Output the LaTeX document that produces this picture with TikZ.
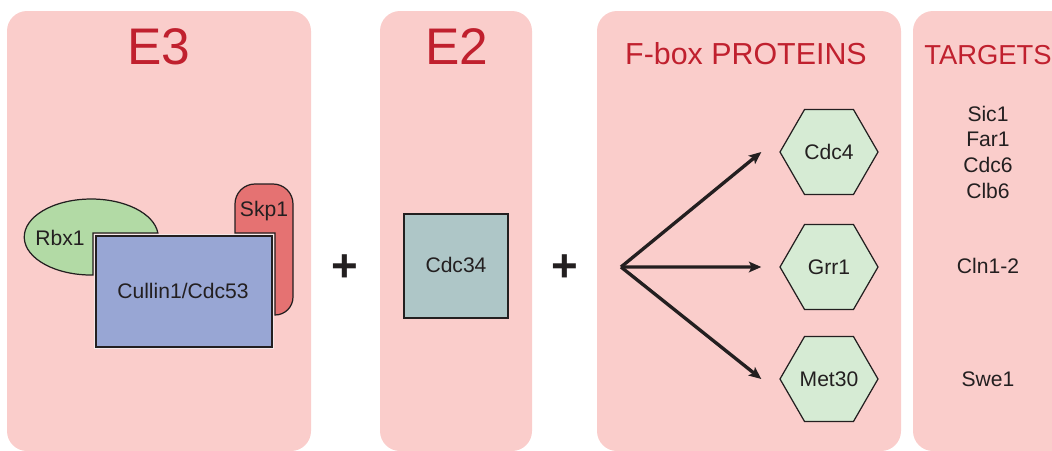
\documentclass[tikz,border=0pt]{standalone}
\usepackage{fontspec}
\setmainfont{Liberation Sans}
\usetikzlibrary{shapes.geometric,arrows.meta}

\definecolor{panelpink}{RGB}{250,205,203}
\definecolor{titlered}{RGB}{192,32,46}
\definecolor{ink}{RGB}{35,31,32}
\definecolor{rbxgreen}{RGB}{178,218,165}
\definecolor{skpred}{RGB}{229,114,114}
\definecolor{cullblue}{RGB}{152,166,212}
\definecolor{cdcgrey}{RGB}{174,198,199}
\definecolor{hexgreen}{RGB}{214,235,212}
\definecolor{halo}{RGB}{246,232,232}

\tikzset{
  panel/.style={fill=panelpink, rounded corners=0.4cm},
  bigtitle/.style={text=titlered, font=\fontsize{29.3}{32}\selectfont},
  midtitle/.style={text=titlered, font=\fontsize{17.3}{20}\selectfont},
  smalltitle/.style={text=titlered, font=\fontsize{15.6}{18}\selectfont},
  lbl/.style={text=ink, font=\fontsize{12}{14.6}\selectfont, align=center, inner sep=0pt},
  protein/.style={draw=ink, line width=0.7pt},
  hexa/.style={regular polygon, regular polygon sides=6, minimum size=1.96cm,
    inner sep=0pt, fill=hexgreen, draw=ink, line width=0.7pt, text=ink,
    font=\fontsize{12}{14.6}\selectfont},
  plus/.style={text=ink, font=\fontsize{26}{28}\selectfont\bfseries, inner sep=0pt},
  branch/.style={draw=ink, line width=1.9pt,
    -{Stealth[length=7pt, width=6pt, inset=1.5pt]}}
}

\begin{document}
\begin{tikzpicture}[x=0.02cm, y=-0.02cm]
  \useasboundingbox (0,0) rectangle (1052,450);
  \clip (0,0) rectangle (1052,450);

  % background panels
  \fill[panel] (7,11) rectangle (311,451);
  \fill[panel] (380,11) rectangle (532,451);
  \fill[panel] (597,11) rectangle (901,451);
  \fill[panel] (913,11) rectangle (1090,451);

  % panel titles
  \node[bigtitle] (tE3) at (159,47) {E3};
  \node[bigtitle] (tE2) at (457,47) {E2};
  \node[midtitle] (tFbox) at (746,54) {F-box PROTEINS};
  \node[smalltitle] (tTargets) at (988,55) {TARGETS};

  % E3 complex: Rbx1, Skp1 and the Cullin1/Cdc53 scaffold
  \draw[protein, fill=rbxgreen] (93,233) -- (93,275)
    arc[start angle=88.5, end angle=354, x radius=67, y radius=38] -- cycle;
  \draw[protein, fill=skpred] (275,315) -- (275,233) -- (235,233) -- (235,204)
    arc[start angle=180, end angle=270, radius=20] -- (273,184)
    arc[start angle=270, end angle=360, radius=20] -- (293,297)
    arc[start angle=0, end angle=90, radius=18] -- cycle;
  \fill[halo] (94,234) rectangle (274,349);
  \draw[protein, fill=cullblue] (96,236) rectangle (272,347);
  \node[lbl] (rbx) at (60,238) {Rbx1};
  \node[lbl] (skp) at (264,211) {Skp1};
  \node[lbl] (cul) at (183,291) {Cullin1/Cdc53};

  \node[plus] (plusA) at (345,268) {+};

  % E2
  \draw[protein, fill=cdcgrey] (404,214) rectangle (508,318);
  \node[lbl] (cdc34) at (456,265) {Cdc34};

  \node[plus] (plusB) at (565,268) {+};

  % F-box proteins
  \coordinate (fork) at (621,267);
  \node[hexa] (cdc4) at (829,152) {Cdc4};
  \node[hexa] (grr1) at (829,267) {Grr1};
  \node[hexa] (met30) at (829,379) {Met30};
  \draw[branch] (fork) -- ([xshift=-0.36cm]cdc4.west);
  \draw[branch] (fork) -- ([xshift=-0.36cm]grr1.west);
  \draw[branch] (fork) -- ([xshift=-0.36cm]met30.west);

  % targets
  \node[lbl] (tg1) at (988,152) {Sic1\\Far1\\Cdc6\\Clb6};
  \node[lbl] (tg2) at (988,266) {Cln1-2};
  \node[lbl] (tg3) at (988,379) {Swe1};
\end{tikzpicture}
\end{document}
